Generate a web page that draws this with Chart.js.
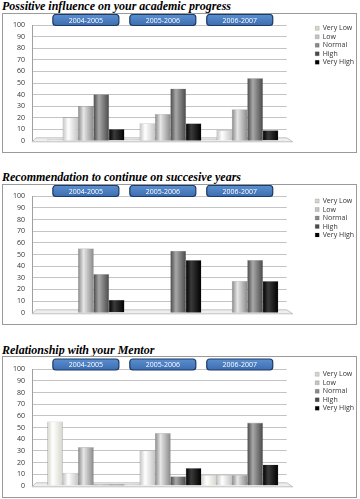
<!DOCTYPE html>
<html lang="en">
<head>
<meta charset="UTF-8">
<title>Mentoring survey</title>
<script src="https://cdn.jsdelivr.net/npm/chart.js"></script>
<style>
  body { margin: 0; background: #fff; width: 360px; height: 499px; position: relative; overflow: hidden; }
  .title { position: absolute; left: 2px; font: italic bold 12px "Liberation Serif", "DejaVu Serif", serif; color: #000; white-space: nowrap; }
  .box { position: absolute; left: 2px; width: 353px; border: 1px solid #9a9a9a; }
  .box canvas { display: block; }
</style>
</head>
<body>
<div class="title" style="top:-1px">Possitive influence on your academic progress</div>
<div class="box" style="top:13px"><canvas id="c1" width="353" height="138"></canvas></div>
<div class="title" style="top:170px">Recommendation to continue on succesive years</div>
<div class="box" style="top:184px"><canvas id="c2" width="353" height="139"></canvas></div>
<div class="title" style="top:343px">Relationship with your Mentor</div>
<div class="box" style="top:356px"><canvas id="c3" width="353" height="140"></canvas></div>
<script>
// categories and series
const years = ['2004-2005', '2005-2006', '2006-2007'];
const levels = ['Very Low', 'Low', 'Normal', 'High', 'Very High'];
const yTicks = [0, 10, 20, 30, 40, 50, 60, 70, 80, 90, 100];

// Possitive influence on your academic progress
const influenceVeryLow = [1, 1, 1];
const influenceLow = [20, 15, 9];
const influenceNormal = [30, 23, 27];
const influenceHigh = [40, 45, 54];
const influenceVeryHigh = [10, 15, 9];

// Recommendation to continue on succesive years
const recommendVeryLow = [0, 0, 0];
const recommendLow = [0, 0, 0];
const recommendNormal = [55, 0, 27];
const recommendHigh = [33, 53, 45];
const recommendVeryHigh = [11, 45, 27];

// Relationship with your Mentor
const mentorVeryLow = [55, 1, 9];
const mentorLow = [11, 30, 9];
const mentorNormal = [33, 45, 9];
const mentorHigh = [1, 8, 54];
const mentorVeryHigh = [1, 15, 18];

// colour per level: [legend, edge, highlight]
const shades = [
  ['#ececec', '#d6d6cc', '#ffffff'],
  ['#ffffff', '#c4c4c4', '#ffffff'],
  ['#bdbdbd', '#8a8a8a', '#e6e6e6'],
  ['#757575', '#4a4a4a', '#a8a8a8'],
  ['#0a0a0a', '#000000', '#3a3a3a']
];

// cylinder-ish shading, bar position taken from the x scale
function barFill(ctx) {
  const s = shades[ctx.datasetIndex];
  if (ctx.type !== 'data') return s[0];
  const x = ctx.chart.scales.x;
  if (!x || !x.width) return s[0];
  const step = x.getPixelForValue(2) - x.getPixelForValue(1);
  const bw = step / levels.length;
  const left = x.getPixelForValue(ctx.parsed.x) - step / 2 + ctx.datasetIndex * bw;
  const g = ctx.chart.ctx.createLinearGradient(left, 0, left + bw, 0);
  g.addColorStop(0, s[1]);
  g.addColorStop(0.35, s[2]);
  g.addColorStop(1, s[1]);
  return g;
}

const yearBoxes = {
  id: 'yearBoxes',
  afterDraw(chart, args, opts) {
    const c = chart.ctx, x = chart.scales.x;
    c.save();
    years.forEach((yr, i) => {
      const cx = x.getPixelForValue(i + 1);
      const w = 66, h = 11, top = opts.top;
      const g = c.createLinearGradient(0, top, 0, top + h);
      g.addColorStop(0, '#5b8fd0');
      g.addColorStop(1, '#3d6db0');
      c.beginPath();
      c.roundRect(cx - w / 2, top, w, h, 3);
      c.fillStyle = g;
      c.fill();
      c.lineWidth = 1.2;
      c.strokeStyle = '#1c3a66';
      c.stroke();
      c.fillStyle = '#fff';
      c.font = '7px "Open Sans", sans-serif';
      c.textAlign = 'center';
      c.textBaseline = 'middle';
      c.fillText(yr, cx, top + h / 2 + 0.5);
    });
    c.restore();
  }
};

const floor = {
  id: 'floor',
  beforeDatasetsDraw(chart) {
    const c = chart.ctx, y0 = chart.scales.y.getPixelForValue(0), a = chart.chartArea;
    c.save();
    c.beginPath();
    c.moveTo(a.left, y0 + 1);
    c.lineTo(a.left + 4, y0 - 3);
    c.lineTo(a.right, y0 - 3);
    c.lineTo(a.right + 6, y0 + 1);
    c.closePath();
    c.fillStyle = '#eeeeee';
    c.fill();
    c.strokeStyle = '#b5b5b5';
    c.lineWidth = 0.8;
    c.stroke();
    c.restore();
  }
};

function makeChart(id, series, padTop, padBottom, boxTop) {
  new Chart(document.getElementById(id), {
    type: 'bar',
    data: {
      datasets: levels.map((lvl, k) => ({
        label: lvl,
        data: series[k].map((v, i) => ({ x: i + 1, y: v })),
        backgroundColor: barFill,
        borderColor: 'rgba(0,0,0,0.22)',
        borderWidth: 0.6,
        barPercentage: 1,
        categoryPercentage: 1
      }))
    },
    options: {
      responsive: false,
      animation: false,
      layout: { padding: { top: padTop, bottom: padBottom, left: 0, right: -8 } },
      scales: {
        x: {
          type: 'linear',
          min: 0.3,
          max: 3.61,
          offset: false,
          bounds: 'data',
          display: false,
          grid: { offset: false },
          afterBuildTicks: s => { s.ticks = years.map((y, i) => ({ value: i + 1 })); }
        },
        y: {
          min: 0,
          max: 100,
          afterBuildTicks: s => { s.ticks = yTicks.map(v => ({ value: v })); },
          afterFit: s => { s.width = 29; },
          ticks: { padding: 7, color: '#333', font: { family: 'Open Sans', size: 7 } },
          grid: { color: '#c4c4c4', lineWidth: 1, drawTicks: false },
          border: { display: true, color: '#a0a0a0' }
        },
        gap: {
          position: 'right',
          display: true,
          grid: { display: false },
          border: { display: false },
          ticks: { display: false },
          afterFit: s => { s.width = 27; }
        }
      },
      plugins: {
        legend: {
          position: 'right',
          align: 'start',
          labels: {
            boxWidth: 4,
            boxHeight: 4,
            padding: 1.5,
            color: '#333',
            font: { family: 'Open Sans', size: 7 }
          }
        },
        tooltip: { enabled: false },
        yearBoxes: { top: boxTop }
      }
    },
    plugins: [floor, yearBoxes]
  });
}

makeChart('c1', [influenceVeryLow, influenceLow, influenceNormal, influenceHigh, influenceVeryHigh], 9.3, 9.3, 0.5);
makeChart('c2', [recommendVeryLow, recommendLow, recommendNormal, recommendHigh, recommendVeryHigh], 11, 8.7, 0.5);
makeChart('c3', [mentorVeryLow, mentorLow, mentorNormal, mentorHigh, mentorVeryHigh], 12.3, 8.7, 2);
</script>
</body>
</html>
